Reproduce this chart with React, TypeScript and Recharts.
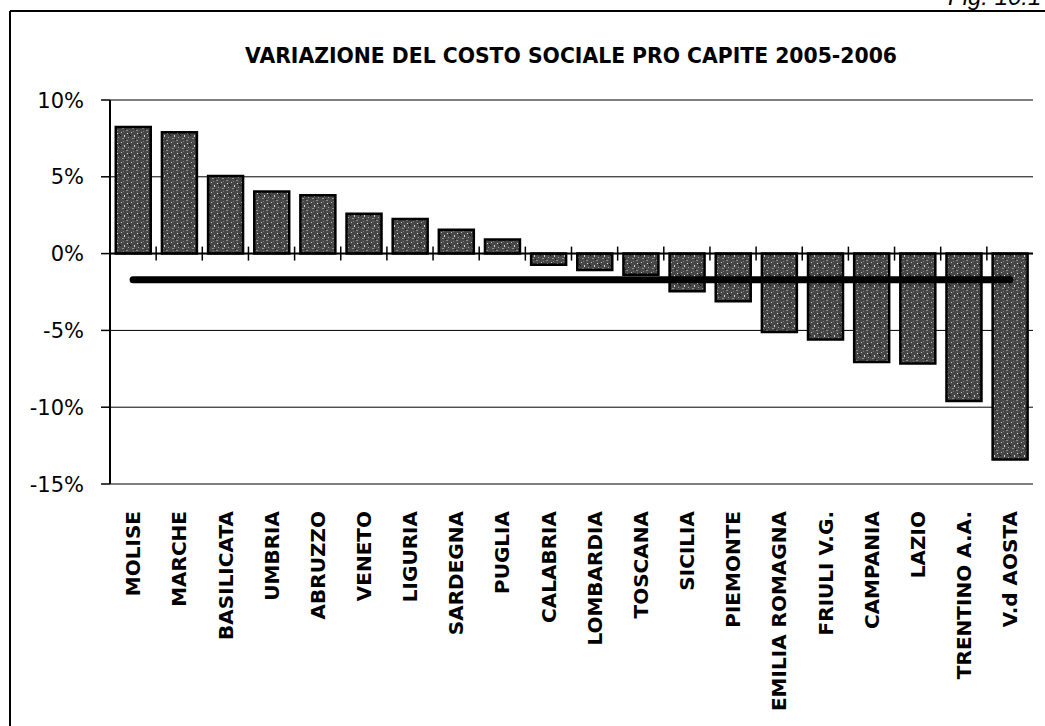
import React from 'react';
import { ComposedChart, Bar, XAxis, YAxis, CartesianGrid, ReferenceLine } from 'recharts';

const categories = [
  'MOLISE', 'MARCHE', 'BASILICATA', 'UMBRIA', 'ABRUZZO', 'VENETO', 'LIGURIA',
  'SARDEGNA', 'PUGLIA', 'CALABRIA', 'LOMBARDIA', 'TOSCANA', 'SICILIA', 'PIEMONTE',
  'EMILIA ROMAGNA', 'FRIULI V.G.', 'CAMPANIA', 'LAZIO', 'TRENTINO A.A.', 'V.d AOSTA',
];
const changes = [
  8.25, 7.9, 5.05, 4.05, 3.8, 2.6, 2.25, 1.55, 0.92, -0.72, -1.07, -1.38, -2.45,
  -3.1, -5.1, -5.6, -7.05, -7.15, -9.6, -13.4,
];
const yTicks = [-15, -10, -5, 0, 5, 10];
const NATIONAL_AVG = -1.7;
const TITLE = 'VARIAZIONE DEL COSTO SOCIALE PRO CAPITE 2005-2006';
const FIG_LABEL = 'Fig. 10.1';

const data = categories.map((region, i) => ({ region, value: changes[i] }));

const FONT = "'DejaVu Sans', 'Liberation Sans', sans-serif";

function YTick(props: any) {
  const { x, y, payload } = props;
  return (
    <text x={x} y={y} dy="0.36em" textAnchor="end" fontFamily={FONT} fontSize={21} fill="#000">
      {`${payload.value}%`}
    </text>
  );
}

function XTick(props: any) {
  const { x, y, payload } = props;
  const ty = y + 27;
  return (
    <text
      x={x}
      y={ty}
      dy="0.36em"
      textAnchor="end"
      transform={`rotate(-90, ${x}, ${ty})`}
      fontFamily={FONT}
      fontWeight="bold"
      fontSize={20}
      fill="#000"
    >
      {payload.value}
    </text>
  );
}

function ZeroAxis(props: any) {
  const { x1, x2, y1 } = props;
  const left = Math.min(x1, x2);
  const right = Math.max(x1, x2);
  const step = (right - left) / categories.length;
  return (
    <g>
      <line x1={left} x2={right} y1={y1} y2={y1} stroke="#000" strokeWidth={2} />
      {categories.slice(1).map((c, i) => (
        <line
          key={c}
          x1={left + step * (i + 1)}
          x2={left + step * (i + 1)}
          y1={y1 - 7}
          y2={y1 + 7}
          stroke="#000"
          strokeWidth={1.5}
        />
      ))}
    </g>
  );
}

export default function App() {
  return (
    <div style={{ position: 'absolute', left: 0, top: 0, width: 1045, height: 726, background: '#fff', overflow: 'hidden' }}>
      <ComposedChart
        width={1045}
        height={726}
        data={data}
        margin={{ top: 100, right: 12, bottom: 0, left: 10 }}
        barCategoryGap="12.5%"
      >
        <defs>
          <pattern id="speckle" width="10" height="10" patternUnits="userSpaceOnUse">
            <rect width="10" height="10" fill="#474747" />
            <rect x="1" y="2" width="1" height="1" fill="#bdbdbd" />
            <rect x="6" y="0" width="2" height="1" fill="#8a8a8a" />
            <rect x="4" y="5" width="1" height="2" fill="#d0d0d0" />
            <rect x="8" y="7" width="1" height="1" fill="#a0a0a0" />
            <rect x="2" y="8" width="2" height="1" fill="#909090" />
            <rect x="7" y="3" width="1" height="1" fill="#e0e0e0" />
            <rect x="0" y="5" width="1" height="1" fill="#141414" />
            <rect x="5" y="9" width="1" height="1" fill="#1c1c1c" />
            <rect x="3" y="1" width="1" height="1" fill="#7a7a7a" />
            <rect x="9" y="4" width="1" height="1" fill="#151515" />
          </pattern>
        </defs>
        <CartesianGrid vertical={false} stroke="#000" strokeWidth={1} />
        <XAxis
          dataKey="region"
          interval={0}
          height={242}
          axisLine={false}
          tickLine={false}
          tickSize={0}
          tickMargin={0}
          tick={<XTick />}
        />
        <YAxis
          domain={[-15, 10]}
          ticks={yTicks}
          width={100}
          axisLine={{ stroke: '#000', strokeWidth: 2 }}
          tickLine={{ stroke: '#000', strokeWidth: 1.5 }}
          tickSize={9}
          tickMargin={17}
          tick={<YTick />}
          allowDataOverflow
        />
        <YAxis
          yAxisId="right"
          orientation="right"
          domain={[-15, 10]}
          ticks={yTicks}
          width={0}
          axisLine={{ stroke: '#000', strokeWidth: 1.5 }}
          tick={false}
          allowDataOverflow
        />
        <Bar dataKey="value" fill="url(#speckle)" stroke="#000" strokeWidth={2.5} isAnimationActive={false} />
        <ReferenceLine y={0} shape={<ZeroAxis />} />
        <ReferenceLine
          segment={[
            { x: categories[0], y: NATIONAL_AVG },
            { x: categories[categories.length - 1], y: NATIONAL_AVG },
          ]}
          stroke="#000"
          strokeWidth={7}
          strokeLinecap="round"
        />
      </ComposedChart>
      <svg
        width={1045}
        height={726}
        style={{ position: 'absolute', left: 0, top: 0, pointerEvents: 'none' }}
      >
        <line x1={10} y1={11} x2={1045} y2={11} stroke="#000" strokeWidth={2} />
        <line x1={10} y1={11} x2={10} y2={726} stroke="#000" strokeWidth={2} />
        <text
          x={571}
          y={63}
          textAnchor="middle"
          fontFamily={FONT}
          fontWeight="bold"
          fontSize={21}
          textLength={652}
          lengthAdjust="spacingAndGlyphs"
          fill="#000"
        >
          {TITLE}
        </text>
        <text x={948} y={5} fontFamily="'Liberation Sans', sans-serif" fontStyle="italic" fontSize={24} fill="#000">
          {FIG_LABEL}
        </text>
      </svg>
    </div>
  );
}
